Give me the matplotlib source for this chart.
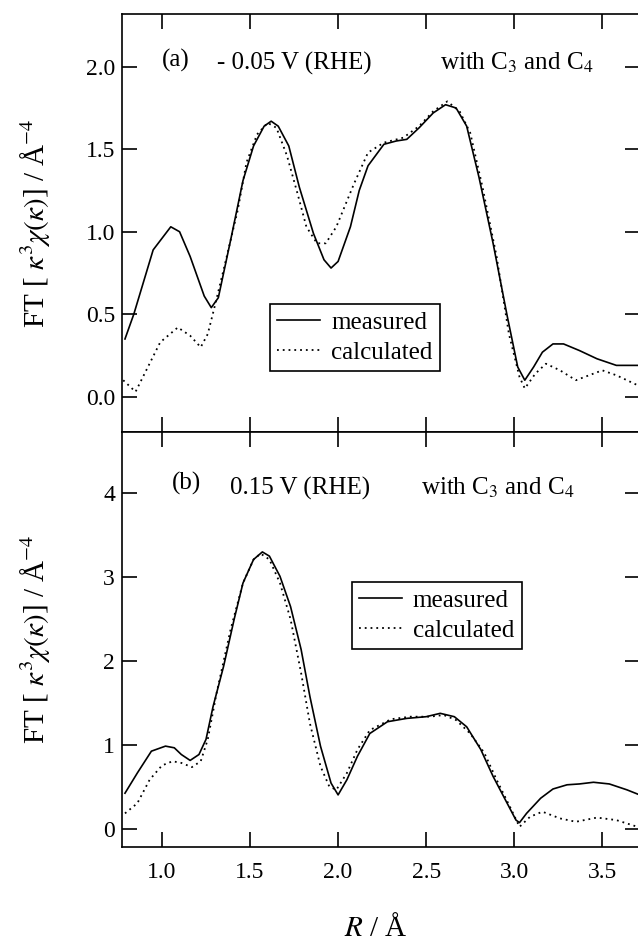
import matplotlib
matplotlib.use('Agg')
import matplotlib.pyplot as plt

# (a) -0.05 V (RHE)
r_a_meas = [0.79, 0.84, 0.95, 1.05, 1.10, 1.16, 1.24, 1.28, 1.32, 1.39, 1.46, 1.52, 1.58, 1.62,
            1.66, 1.72, 1.78, 1.86, 1.92, 1.96, 2.00, 2.07, 2.12, 2.17, 2.26, 2.33, 2.39, 2.46,
            2.54, 2.61, 2.67, 2.73, 2.80, 2.88, 2.96, 3.02, 3.06, 3.11, 3.16, 3.22, 3.28, 3.37,
            3.47, 3.58, 3.70]
ft_a_meas = [0.35, 0.50, 0.89, 1.03, 1.00, 0.85, 0.61, 0.54, 0.60, 0.95, 1.31, 1.52, 1.64, 1.67,
             1.64, 1.52, 1.27, 0.99, 0.83, 0.78, 0.82, 1.03, 1.25, 1.40, 1.53, 1.55, 1.56, 1.63,
             1.72, 1.77, 1.75, 1.64, 1.33, 0.93, 0.49, 0.18, 0.10, 0.18, 0.27, 0.32, 0.32, 0.28,
             0.23, 0.19, 0.19]
r_a_calc = [0.78, 0.85, 0.92, 0.99, 1.09, 1.16, 1.22, 1.26, 1.30, 1.35, 1.43, 1.48, 1.54, 1.60,
            1.65, 1.71, 1.77, 1.82, 1.88, 1.93, 1.99, 2.09, 2.17, 2.26, 2.37, 2.46, 2.54, 2.62,
            2.69, 2.75, 2.82, 2.90, 2.97, 3.03, 3.06, 3.12, 3.18, 3.26, 3.35, 3.45, 3.50, 3.58,
            3.70]
ft_a_calc = [0.10, 0.03, 0.18, 0.33, 0.42, 0.37, 0.30, 0.38, 0.55, 0.77, 1.13, 1.42, 1.59, 1.66,
             1.63, 1.46, 1.23, 1.03, 0.93, 0.93, 1.03, 1.29, 1.48, 1.54, 1.57, 1.64, 1.73, 1.79,
             1.73, 1.60, 1.27, 0.85, 0.38, 0.12, 0.05, 0.14, 0.20, 0.16, 0.10, 0.14, 0.16, 0.13,
             0.07]

# (b) 0.15 V (RHE)
r_b_meas = [0.79, 0.86, 0.94, 1.02, 1.07, 1.11, 1.16, 1.21, 1.25, 1.29, 1.35, 1.41, 1.46, 1.52,
            1.57, 1.61, 1.67, 1.73, 1.79, 1.84, 1.90, 1.96, 2.00, 2.05, 2.11, 2.18, 2.28, 2.39,
            2.50, 2.58, 2.66, 2.73, 2.81, 2.88, 2.96, 3.01, 3.03, 3.07, 3.15, 3.22, 3.30, 3.37,
            3.45, 3.54, 3.64, 3.70]
ft_b_meas = [0.43, 0.67, 0.93, 0.99, 0.97, 0.89, 0.82, 0.89, 1.07, 1.46, 1.94, 2.50, 2.93, 3.21,
             3.30, 3.25, 3.01, 2.65, 2.14, 1.58, 0.99, 0.55, 0.41, 0.59, 0.87, 1.14, 1.28, 1.32,
             1.34, 1.38, 1.34, 1.22, 0.95, 0.63, 0.31, 0.11, 0.08, 0.19, 0.37, 0.48, 0.53, 0.54,
             0.56, 0.54, 0.47, 0.42]
r_b_calc = [0.79, 0.86, 0.93, 1.00, 1.06, 1.11, 1.17, 1.22, 1.26, 1.31, 1.39, 1.46, 1.52, 1.56,
            1.61, 1.67, 1.73, 1.79, 1.84, 1.90, 1.95, 1.99, 2.05, 2.11, 2.18, 2.30, 2.41, 2.52,
            2.60, 2.67, 2.75, 2.83, 2.90, 2.98, 3.03, 3.09, 3.16, 3.26, 3.35, 3.47, 3.58, 3.70]
ft_b_calc = [0.19, 0.31, 0.59, 0.76, 0.81, 0.79, 0.74, 0.81, 1.07, 1.62, 2.38, 2.93, 3.21, 3.28,
             3.21, 2.93, 2.50, 1.86, 1.26, 0.75, 0.51, 0.47, 0.67, 0.95, 1.18, 1.31, 1.34, 1.34,
             1.36, 1.30, 1.14, 0.91, 0.59, 0.25, 0.03, 0.15, 0.21, 0.13, 0.09, 0.14, 0.11, 0.03]

yticks_a = [0.0, 0.5, 1.0, 1.5, 2.0]
yticks_b = [0, 1, 2, 3, 4]
xticks = [1.0, 1.5, 2.0, 2.5, 3.0, 3.5]

plt.rcParams['font.family'] = ['Liberation Serif', 'DejaVu Serif']
plt.rcParams['mathtext.fontset'] = 'stix'

fig = plt.figure(figsize=(6.38, 9.43), dpi=100)
ax1 = fig.add_axes([0.1912, 0.5422, 0.8119, 0.4430])
ax2 = fig.add_axes([0.1912, 0.1018, 0.8119, 0.4404])

ylabel = r'FT [ $\kappa^{3}\chi(\kappa)$] / Å$^{-4}$'
dots = (0, (1, 2.2))
leg_kw = dict(loc='upper left', fontsize=18, fancybox=False, edgecolor='black', framealpha=1,
              borderpad=0.3, handlelength=1.7, handletextpad=0.45, labelspacing=0.3,
              borderaxespad=0)

#draw (a)
ax1.plot(r_a_meas, ft_a_meas, color='black', lw=1.2, label='measured')
ax1.plot(r_a_calc, ft_a_calc, color='black', lw=1.3, ls=dots, label='calculated')
ax1.set_xlim(0.773, 3.714)
ax1.set_ylim(-0.212, 2.32)
ax1.set_yticks(yticks_a)
ax1.set_yticklabels(['%.1f' % v for v in yticks_a])
ax1.set_xticks(xticks)
ax1.tick_params(labelbottom=False)
ax1.text(1.0, 2.0, '(a)', fontsize=18)
ax1.text(1.312, 1.984, '- 0.05 V (RHE)', fontsize=18)
ax1.text(2.578, 1.984, 'with C$_3$ and C$_4$', fontsize=18)
leg1 = ax1.legend(bbox_to_anchor=(0.2857, 0.3057), **leg_kw)

#draw (b)
ax2.plot(r_b_meas, ft_b_meas, color='black', lw=1.2, label='measured')
ax2.plot(r_b_calc, ft_b_calc, color='black', lw=1.3, ls=dots, label='calculated')
ax2.set_xlim(0.773, 3.714)
ax2.set_ylim(-0.21, 4.73)
ax2.set_yticks(yticks_b)
ax2.set_xticks(xticks)
ax2.set_xticklabels(['%.1f' % v for v in xticks])
ax2.text(1.057, 4.04, '(b)', fontsize=18)
ax2.text(1.387, 3.985, '0.15 V (RHE)', fontsize=18)
ax2.text(2.472, 3.985, 'with C$_3$ and C$_4$', fontsize=18)
leg2 = ax2.legend(bbox_to_anchor=(0.4434, 0.6388), **leg_kw)
ax2.set_xlabel(r'$R$ / Å', fontsize=21)
ax2.xaxis.set_label_coords(0.49, -0.162)

for ax, leg in [(ax1, leg1), (ax2, leg2)]:
    ax.tick_params(direction='in', length=11, width=1.2, top=True, right=True,
                   labelsize=17, colors='black')
    ax.tick_params(axis='y', pad=5)
    ax.tick_params(axis='x', pad=11)
    for s in ax.spines.values():
        s.set_linewidth(1.2)
    ax.set_ylabel(ylabel, fontsize=21)
    ax.yaxis.set_label_coords(-0.135, 0.5)
    leg.get_frame().set_linewidth(1.2)

plt.savefig('out.png', dpi=100)
